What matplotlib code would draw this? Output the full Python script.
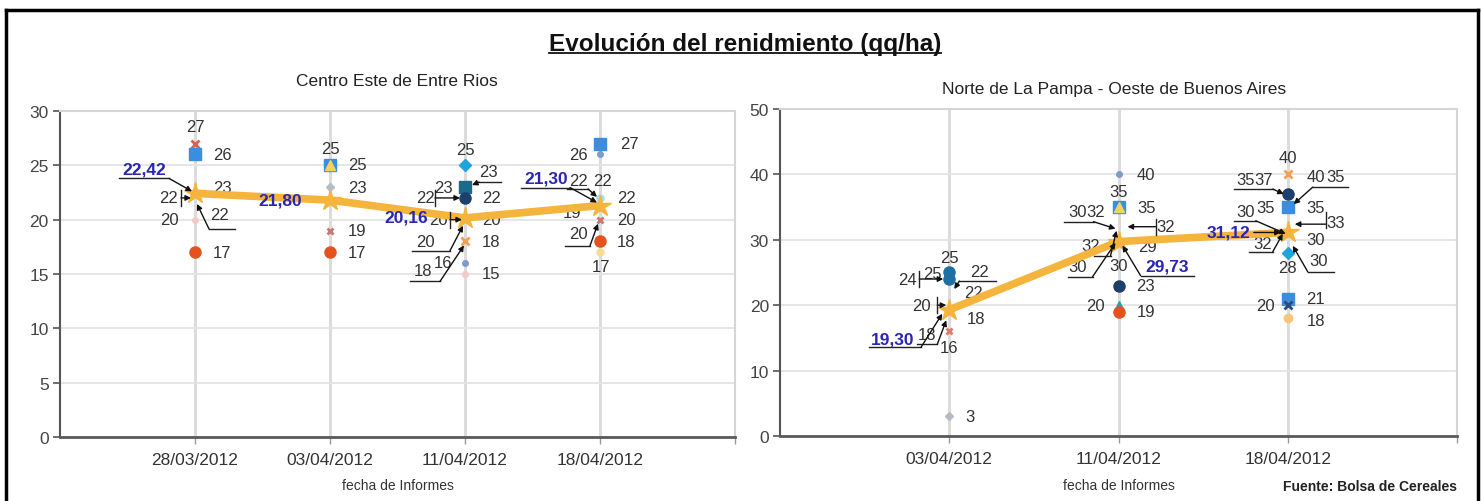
import numpy as np
import matplotlib.pyplot as plt
from matplotlib.lines import Line2D

plt.rcParams['font.family'] = ['Liberation Sans', 'DejaVu Sans']

# ---------------- datos ----------------
titulo = 'Evolución del renidmiento (qq/ha)'

izq_titulo = 'Centro Este de Entre Rios'
izq_fechas = ['28/03/2012', '03/04/2012', '11/04/2012', '18/04/2012']
izq_prom = [22.42, 21.80, 20.16, 21.30]
izq_cat = [0, 0, 0, 0, 0, 0, 0,
           1, 1, 1, 1, 1,
           2, 2, 2, 2, 2, 2, 2, 2, 2, 2, 2, 2,
           3, 3, 3, 3, 3, 3, 3, 3, 3, 3]
izq_val = [27, 26, 23, 22, 22, 20, 17,
           25, 25, 23, 19, 17,
           25, 23, 23, 22, 22, 20, 20, 20, 18, 18, 16, 15,
           27, 26, 22, 22, 22, 20, 19, 20, 18, 17]

der_titulo = 'Norte de La Pampa - Oeste de Buenos Aires'
der_fechas = ['03/04/2012', '11/04/2012', '18/04/2012']
der_prom = [19.30, 29.73, 31.12]
der_cat = [0] * 10 + [1] * 13 + [2] * 16
der_val = [25, 25, 24, 22, 22, 20, 18, 18, 16, 3,
           40, 35, 35, 32, 30, 32, 32, 30, 30, 29, 23, 20, 19,
           40, 40, 37, 35, 35, 35, 35, 33, 30, 30, 32, 30, 28, 21, 20, 18]

# ---------------- estilos ----------------
estilos = {
    'oculto': dict(marker='None'),
    'x_rojo': dict(marker='x', ms=6, mec='#d9604c', mew=2),
    'sq_azul': dict(marker='s', ms=8, mfc='#3b8de0', mec='#3b8de0'),
    'rosa': dict(marker='o', ms=4, mfc='#f4c9c3', mec='#f4c9c3'),
    'o_rojo': dict(marker='o', ms=8, mfc='#e2531e', mec='#e2531e'),
    'sq_amarillo': dict(marker='s', ms=8, mfc='#3b8de0', mec='#3b8de0'),
    'tri_amarillo': dict(marker='^', ms=7, mfc='#f2d35a', mec='#f2d35a'),
    'rombo_gris': dict(marker='D', ms=4, mfc='#b5bcc6', mec='#b5bcc6'),
    'x_marron': dict(marker='x', ms=5, mec='#c57b70', mew=2),
    'rombo_cian': dict(marker='D', ms=6, mfc='#20a4dc', mec='#20a4dc'),
    'sq_teal': dict(marker='s', ms=8, mfc='#1b6a8a', mec='#1b6a8a'),
    'o_navy': dict(marker='o', ms=8, mfc='#1c3f6b', mec='#1c3f6b'),
    'x_naranja': dict(marker='x', ms=6, mec='#f0a050', mew=2),
    'pto_azulgris': dict(marker='o', ms=4, mfc='#7f9cc8', mec='#7f9cc8'),
    'pto_cian': dict(marker='o', ms=5, mfc='#a7dced', mec='#a7dced'),
    'pto_amarillo': dict(marker='o', ms=5, mfc='#f7dc92', mec='#f7dc92'),
    'o_teal': dict(marker='o', ms=8, mfc='#1e6fa3', mec='#1e6fa3'),
    'x_salmon': dict(marker='x', ms=5, mec='#e07a6a', mew=2),
    'rombo_teal': dict(marker='^', ms=6, mfc='#22a0b5', mec='#22a0b5'),
    'x_navy': dict(marker='x', ms=6, mec='#2a4a7a', mew=2),
    'o_naranjaclaro': dict(marker='o', ms=6, mfc='#f7c777', mec='#f7c777'),
}

izq_est = ['x_rojo', 'sq_azul', 'oculto', 'oculto', 'oculto', 'rosa', 'o_rojo',
           'sq_amarillo', 'tri_amarillo', 'rombo_gris', 'x_marron', 'o_rojo',
           'rombo_cian', 'sq_teal', 'oculto', 'o_navy', 'oculto', 'oculto', 'oculto', 'oculto',
           'x_naranja', 'oculto', 'pto_azulgris', 'rosa',
           'sq_azul', 'pto_azulgris', 'oculto', 'oculto', 'pto_cian', 'x_marron', 'oculto',
           'oculto', 'o_rojo', 'pto_amarillo']
der_est = ['o_teal', 'oculto', 'o_teal', 'oculto', 'oculto', 'oculto', 'oculto', 'oculto',
           'x_salmon', 'rombo_gris',
           'pto_azulgris', 'sq_azul', 'tri_amarillo', 'oculto', 'oculto', 'oculto', 'oculto',
           'oculto', 'oculto', 'oculto', 'o_navy', 'rombo_teal', 'o_rojo',
           'x_naranja', 'oculto', 'o_navy', 'oculto', 'oculto', 'sq_azul', 'oculto', 'oculto',
           'oculto', 'oculto', 'oculto', 'oculto', 'rombo_cian', 'sq_azul', 'x_navy',
           'o_naranjaclaro']

# posicion de etiquetas en pixeles: (dx, dy, ha, guia, barra)
izq_etq = [
    (0, 17, 'c'), (18, 0, 'l'), (18, 0, 'l'),
    (-17, 0, 'r', [(-14, 0), (-4, 0)], -14),
    (25, -17, 'c', [(40, -31), (14, -31), (2, -6)]),
    (-16, 0, 'r'), (18, 0, 'l'),
    (0, 17, 'c'), (18, 1, 'l'), (18, 0, 'l'), (18, 0, 'l'), (18, 0, 'l'),
    (0, 16, 'c'), (23, 16, 'c', [(36, 5), (14, 5), (7, 2)]), (-22, 0, 'c'), (17, 0, 'l'),
    (-40, 0, 'c', [(-30, 0), (-5, 0)], -30), (17, 0, 'l'),
    (-27, 0, 'c', [(-15, 0), (-3, 0)], -15),
    (-40, -22, 'c', [(-53, -31), (-15, -31), (-2, -6)]), (17, 0, 'l'),
    (-42, -29, 'c', [(-55, -40), (-25, -40), (-1, -4)]), (-22, 1, 'c'), (17, 0, 'l'),
    (20, 0, 'l'), (-22, 0, 'c'), (-22, 17, 'c', [(-33, 9), (-12, 9), (-3, 1)]), (2, 17, 'c'),
    (17, 0, 'l'), (17, 0, 'l'), (-28, 18, 'c'),
    (-22, -14, 'c', [(-35, -26), (-10, -26), (-2, -4)]), (17, 0, 'l'), (1, -14, 'c'),
]
izq_prom_etq = [(-51, 24, 'c', [(-76, 15), (-26, 15), (-3, 2)]), (-50, 0, 'c'), (-59, 1, 'c'),
                (-54, 28, 'c', [(-79, 18), (-30, 18), (-3, 3)])]

der_etq = [
    (0, 15, 'c'), (-17, -1, 'c'), (-42, 0, 'c', [(-30, 0), (-6, 0)], -30),
    (30, 21, 'c', [(47, 11), (10, 11), (5, 3)]), (15, 0, 'l'),
    (-28, 0, 'c', [(-12, 0), (-3, 0)], -12), (27, 0, 'c'),
    (-22, -16, 'c', [(-32, -26), (-12, -26), (-3, -2)]), (0, -16, 'c'), (16, 0, 'l'),
    (18, 0, 'l'), (0, 16, 'c'), (19, 0, 'l'), (-23, 15, 'c', [(-55, 5), (-25, 5), (-3, -2)]),
    (-41, 28, 'c'), (47, 0, 'c', [(37, 0), (9, 0)], 37),
    (-28, -19, 'c', [(-25, -29), (-8, -29), (-2, -4)]),
    (-41, -27, 'c', [(-51, -37), (-26, -37), (-3, -3)]), (0, -26, 'c'), (29, 0, 'c'),
    (18, 0, 'l'), (-23, 0, 'c'), (18, 0, 'l'),
    (0, 17, 'c'), (28, -2, 'c'), (-24, 15, 'c', [(-54, 5), (-15, 5), (-4, 0)]), (-42, 28, 'c'),
    (48, 31, 'c', [(60, 20), (25, 20), (6, 3)]), (-22, 0, 'c'), (28, 0, 'c'),
    (48, -2, 'c', [(38, -4), (7, -4)], 38), (-42, 28, 'c', [(-54, 19), (-32, 19), (-2, 6)]),
    (28, 0, 'c'), (-25, -17, 'c', [(-39, -25), (-15, -25), (-5, -7)]),
    (31, -21, 'c', [(46, -32), (20, -32), (5, -6)]), (0, -15, 'c'), (28, 0, 'c'),
    (-22, 0, 'c'), (28, -2, 'c'),
]
der_prom_etq = [(-57, -29, 'c', [(-80, -37), (-28, -37), (-7, -4)]),
                (49, -24, 'c', [(75, -34), (22, -34), (4, -4)]),
                (-59, 0, 'c', [(-34, 0), (-7, 0)])]

HA = {'c': 'center', 'l': 'left', 'r': 'right'}
NARANJA = '#f5b43c'

fig = plt.figure(figsize=(14.81, 5.02), dpi=100)


def escala(ax):
    bb = ax.get_position()
    W = bb.width * fig.get_figwidth() * fig.dpi
    H = bb.height * fig.get_figheight() * fig.dpi
    x0, x1 = ax.get_xlim()
    y0, y1 = ax.get_ylim()
    return (x1 - x0) / W, (y1 - y0) / H


def guia(ax, x, y, pts, barra=None):
    sx, sy = escala(ax)
    gx = [x + p[0] * sx for p in pts]
    gy = [y + p[1] * sy for p in pts]
    if len(pts) > 2:
        ax.plot(gx[:-1], gy[:-1], color='#222222', lw=1, zorder=4, clip_on=False)
    ax.annotate('', xy=(gx[-1], gy[-1]), xytext=(gx[-2], gy[-2]), zorder=4,
                arrowprops=dict(arrowstyle='-|>', color='#111111', lw=1,
                                mutation_scale=8, shrinkA=0, shrinkB=0))
    if barra is not None:
        ax.plot([x + barra * sx] * 2, [y - 8 * sy, y + 8 * sy], color='#222222',
                lw=1, zorder=4, clip_on=False)


def etiqueta(ax, x, y, txt, e, **kw):
    e = tuple(e) + (None,) * (5 - len(e))
    dx, dy, ha, pts, barra = e
    ax.annotate(txt, (x, y), xytext=(dx, dy), textcoords='offset pixels',
                ha=HA[ha], va='center', **kw)
    if pts:
        guia(ax, x, y, pts, barra)


def panel(pos, fechas, prom, cat, val, est, etq, prom_etq, ymax, ypaso, sub, subpos):
    ax = fig.add_axes(pos)
    n = len(fechas)
    xs = np.arange(1, n + 1)
    ax.set_xlim(0, n + 1)
    ax.set_ylim(0, ymax)
    ax.set_yticks(np.arange(0, ymax + 1, ypaso))
    ax.set_xticks(xs)
    ax.set_xticklabels(fechas)
    ax.set_xticks([n + 1], minor=True)
    ax.grid(True, axis='x', color='#dcdcdc', lw=2.2, zorder=0)
    ax.grid(True, axis='y', color='#e4e4e4', lw=1.3, zorder=0)
    ax.set_axisbelow(True)
    for s in ['top', 'right']:
        ax.spines[s].set_color('#d5d5d5')
        ax.spines[s].set_linewidth(1.5)
    ax.spines['left'].set_color('#555555')
    ax.spines['left'].set_linewidth(1.5)
    ax.spines['bottom'].set_color('#5a5a5a')
    ax.spines['bottom'].set_linewidth(2)
    ax.tick_params(axis='y', length=5, width=1.2, color='#555555', labelsize=12.5,
                   labelcolor='#444444', pad=3)
    ax.tick_params(axis='x', which='both', length=5, width=1, color='#999999',
                   labelsize=12.5, labelcolor='#333333', pad=6)

    for c, v, s, e in zip(cat, val, est, etq):
        x = xs[c]
        ax.plot([x], [v], linestyle='none', zorder=2, clip_on=False, **estilos[s])
        etiqueta(ax, x, v, str(v), e, fontsize=12, color='#333333', zorder=2.5)

    ax.plot(xs, prom, color=NARANJA, lw=5.5, marker='*', ms=16, mfc=NARANJA,
            mec=NARANJA, zorder=3, solid_capstyle='round')
    for x, p, e in zip(xs, prom, prom_etq):
        etiqueta(ax, x, p, f'{p:.2f}'.replace('.', ','), e, fontsize=12.5,
                 fontweight='bold', color='#2a26b4', zorder=5)

    fig.text(subpos[0], subpos[1], sub, ha='center', va='center', fontsize=12.5,
             color='#222222')
    fig.text(pos[0] + pos[2] / 2, 0.032, 'fecha de Informes', ha='center',
             va='center', fontsize=10, color='#333333')
    return ax


panel([0.0405, 0.1275, 0.4558, 0.6494], izq_fechas, izq_prom, izq_cat, izq_val,
      izq_est, izq_etq, izq_prom_etq, 30, 5, izq_titulo, (0.268, 0.837))
panel([0.5267, 0.1295, 0.4571, 0.6514], der_fechas, der_prom, der_cat, der_val,
      der_est, der_etq, der_prom_etq, 50, 10, der_titulo, (0.752, 0.821))

t = fig.text(0.503, 0.912, titulo, ha='center', va='center', fontsize=17.5,
             fontweight='bold', color='#111111')
fig.text(0.984, 0.030, 'Fuente: Bolsa de Cereales', ha='right', va='center',
         fontsize=10, fontweight='bold', color='#222222')

fig.canvas.draw()
bb = t.get_window_extent().transformed(fig.transFigure.inverted())
fig.add_artist(Line2D([bb.x0, bb.x1], [bb.y0 + 0.004] * 2, color='#111111', lw=1.3))

# marco negro
fig.add_artist(Line2D([0.004, 0.998], [0.979, 0.979], color='black', lw=2.5))
fig.add_artist(Line2D([0.004, 0.004], [0.0, 0.979], color='black', lw=2.5))
fig.add_artist(Line2D([0.998, 0.998], [0.0, 0.979], color='black', lw=2.5))

fig.savefig('out.png', dpi=100)
